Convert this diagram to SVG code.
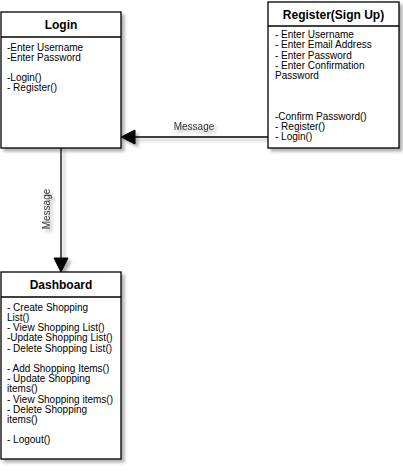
<svg xmlns="http://www.w3.org/2000/svg" width="403" height="473" viewBox="0 0 403 473">
<defs>
<filter id="sh" x="-10%" y="-10%" width="130%" height="130%">
<feDropShadow dx="3" dy="3" stdDeviation="1.6" flood-color="#000" flood-opacity="0.3"/>
</filter>
<filter id="lsh" x="-50%" y="-10%" width="200%" height="130%" filterUnits="userSpaceOnUse">
<feDropShadow dx="3" dy="3" stdDeviation="1.6" flood-color="#000" flood-opacity="0.3"/>
</filter>
</defs>
<style>
.box{fill:#fff;stroke:#000;stroke-width:1.3}
.sep{stroke:#000;stroke-width:1.3}
.title{font-family:"Liberation Sans",Arial,sans-serif;font-size:12px;font-weight:bold;text-anchor:middle;fill:#000}
.body{font-family:"Liberation Sans",Arial,sans-serif;font-size:10px;fill:#000}
.lbl{font-family:"Liberation Sans",Arial,sans-serif;font-size:10px;fill:#333;text-anchor:middle}
.edge{stroke:#000;stroke-width:1.3;fill:none}
.head{fill:#000;stroke:#000;stroke-width:1}
</style>
<rect width="403" height="473" fill="#fff"/>
<g id="connectors" filter="url(#lsh)">
<g id="edge-register-login">
<line class="edge" x1="268" y1="137" x2="134" y2="137"/>
<polygon class="head" points="121,137 135,130 135,144"/>
<text class="lbl" x="194" y="130">Message</text>
</g>
<g id="edge-login-dashboard">
<line class="edge" x1="61" y1="148" x2="61" y2="258"/>
<polygon class="head" points="61,272 54,258 68,258"/>
<text class="lbl" transform="translate(50 209) rotate(-90)" x="0" y="0">Message</text>
</g>
</g>
<g id="login">
<rect class="box" x="1" y="12" width="120" height="136" filter="url(#sh)"/>
<line class="sep" x1="1" y1="37" x2="121" y2="37"/>
<text class="title" x="61" y="28.5">Login</text>
<text class="body"><tspan x="7" y="50.5">-Enter Username</tspan><tspan x="7" y="60.5">-Enter Password</tspan><tspan x="7" y="80.8">-Login()</tspan><tspan x="7" y="91">- Register()</tspan></text>
</g>
<g id="register">
<rect class="box" x="268" y="2" width="131" height="146" filter="url(#sh)"/>
<line class="sep" x1="268" y1="26" x2="399" y2="26"/>
<text class="title" x="333.5" y="18.5">Register(Sign Up)</text>
<text class="body"><tspan x="275" y="38.2">- Enter Username</tspan><tspan x="275" y="48.4">- Enter Email Address</tspan><tspan x="275" y="58.6">- Enter Password</tspan><tspan x="275" y="68.8">- Enter Confirmation</tspan><tspan x="275" y="79">Password</tspan><tspan x="275" y="119.5">-Confirm Password()</tspan><tspan x="275" y="129.7">- Register()</tspan><tspan x="275" y="139.9">- Login()</tspan></text>
</g>
<g id="dashboard">
<rect class="box" x="1" y="272" width="120" height="187" filter="url(#sh)"/>
<line class="sep" x1="1" y1="297" x2="121" y2="297"/>
<text class="title" x="61" y="288.5">Dashboard</text>
<text class="body"><tspan x="7" y="310.8">- Create Shopping</tspan><tspan x="7" y="321">List()</tspan><tspan x="7" y="331.2">- View Shopping List()</tspan><tspan x="7" y="341.4">-Update Shopping List()</tspan><tspan x="7" y="351.6">- Delete Shopping List()</tspan><tspan x="7" y="372">- Add Shopping Items()</tspan><tspan x="7" y="382.2">- Update Shopping</tspan><tspan x="7" y="392.4">items()</tspan><tspan x="7" y="402.6">- View Shopping items()</tspan><tspan x="7" y="412.8">- Delete Shopping</tspan><tspan x="7" y="423">items()</tspan><tspan x="7" y="443.4">- Logout()</tspan></text>
</g>
</svg>
